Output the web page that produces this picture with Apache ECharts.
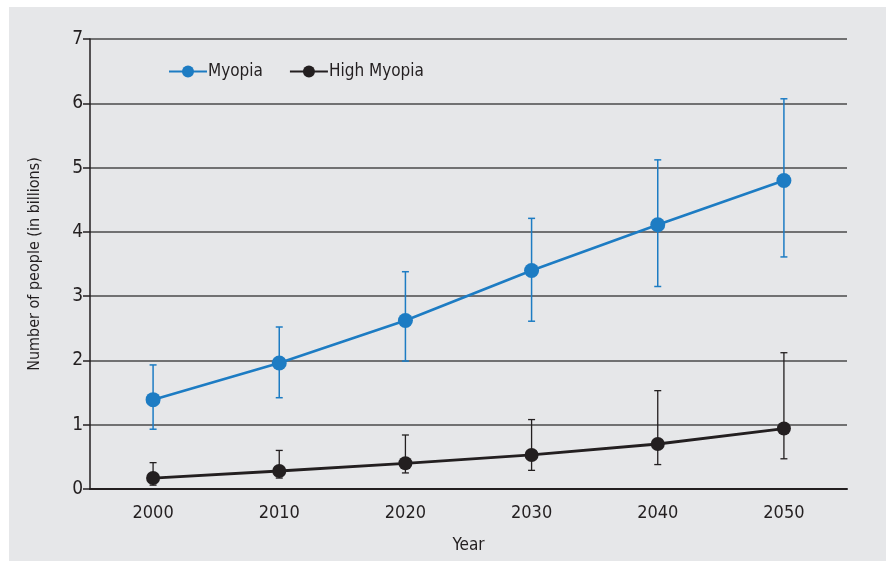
<!DOCTYPE html>
<html>
<head>
<meta charset="utf-8">
<script src="https://cdn.jsdelivr.net/npm/echarts@6/dist/echarts.min.js"></script>
<style>
html,body{margin:0;padding:0;background:#ffffff;overflow:hidden;}
#bg{position:absolute;left:9px;top:7px;width:877px;height:554px;background:#e6e7e9;}
#chart{position:absolute;left:0;top:0;width:886px;height:561px;}
</style>
</head>
<body>
<div id="bg"></div>
<div id="chart"></div>
<script>
const years = ['2000','2010','2020','2030','2040','2050'];
const myopia = [1.39, 1.96, 2.62, 3.40, 4.11, 4.80];
const myopiaLow = [0.93, 1.42, 1.99, 2.61, 3.15, 3.61];
const myopiaHigh = [1.93, 2.52, 3.38, 4.21, 5.12, 6.07];
const highMyopia = [0.17, 0.28, 0.40, 0.53, 0.70, 0.94];
const highMyopiaLow = [0.06, 0.17, 0.25, 0.29, 0.38, 0.47];
const highMyopiaHigh = [0.41, 0.60, 0.84, 1.08, 1.53, 2.12];

const FONT = '"DejaVu Sans Condensed", "Liberation Sans Narrow", sans-serif';
const BLUE = '#1d7cc3';
const BLACK = '#231f20';

function errData(lo, hi){ return years.map((y,i)=>[i, lo[i], hi[i]]); }
function errSeries(name, lo, hi, color, w){
  return {
    type: 'custom', name: name, z: 1,
    data: errData(lo, hi),
    encode: { x: 0, y: [1, 2] },
    renderItem: function(params, api){
      const x = api.value(0);
      const a = api.coord([x, api.value(1)]);
      const b = api.coord([x, api.value(2)]);
      const hw = 3.5;
      const st = { stroke: color, lineWidth: w };
      return { type: 'group', children: [
        { type: 'line', shape: { x1: a[0], y1: a[1], x2: b[0], y2: b[1] }, style: st },
        { type: 'line', shape: { x1: a[0]-hw, y1: a[1], x2: a[0]+hw, y2: a[1] }, style: st },
        { type: 'line', shape: { x1: b[0]-hw, y1: b[1], x2: b[0]+hw, y2: b[1] }, style: st }
      ]};
    }
  };
}

const chart = echarts.init(document.getElementById('chart'), null, { renderer: 'canvas' });
chart.setOption({
  backgroundColor: 'transparent',
  animation: false,
  textStyle: { fontFamily: FONT },
  grid: { left: 90, right: 39, top: 39, bottom: 72, containLabel: false },
  legend: {
    data: ['Myopia', 'High Myopia'],
    left: 163, top: 58,
    itemWidth: 38, itemHeight: 15, itemGap: 26,
    textStyle: { fontFamily: FONT, fontSize: 17, color: BLACK, padding: [0,0,0,-4] }
  },
  xAxis: {
    type: 'category', data: years, boundaryGap: true,
    name: 'Year', nameLocation: 'middle', nameGap: 48,
    nameTextStyle: { fontFamily: FONT, fontSize: 17, color: BLACK },
    axisLine: { lineStyle: { color: BLACK, width: 2 } },
    axisTick: { show: false },
    axisLabel: { fontFamily: FONT, fontSize: 18, color: BLACK, margin: 15 }
  },
  yAxis: {
    type: 'value', min: 0, max: 7, interval: 1,
    name: 'Number of people (in billions)', nameLocation: 'middle', nameGap: 47, nameRotate: 90,
    nameTextStyle: { fontFamily: FONT, fontSize: 16, color: BLACK },
    axisLine: { show: true, lineStyle: { color: BLACK, width: 1.5 } },
    axisTick: { show: true, length: 7, lineStyle: { color: BLACK, width: 1.5 } },
    axisLabel: { fontFamily: FONT, fontSize: 19, color: BLACK, margin: 7 },
    splitLine: { show: true, lineStyle: { color: '#4a4a4a', width: 1.6 } }
  },
  series: [
    errSeries('MyopiaErr', myopiaLow, myopiaHigh, BLUE, 1.5),
    errSeries('HighErr', highMyopiaLow, highMyopiaHigh, BLACK, 1.3),
    {
      name: 'Myopia', type: 'line', data: myopia, z: 3,
      symbol: 'circle', symbolSize: 15,
      itemStyle: { color: BLUE }, lineStyle: { color: BLUE, width: 2.6 }
    },
    {
      name: 'High Myopia', type: 'line', data: highMyopia, z: 3,
      symbol: 'circle', symbolSize: 14,
      itemStyle: { color: BLACK }, lineStyle: { color: BLACK, width: 2.8 }
    }
  ]
});
</script>
</body>
</html>
